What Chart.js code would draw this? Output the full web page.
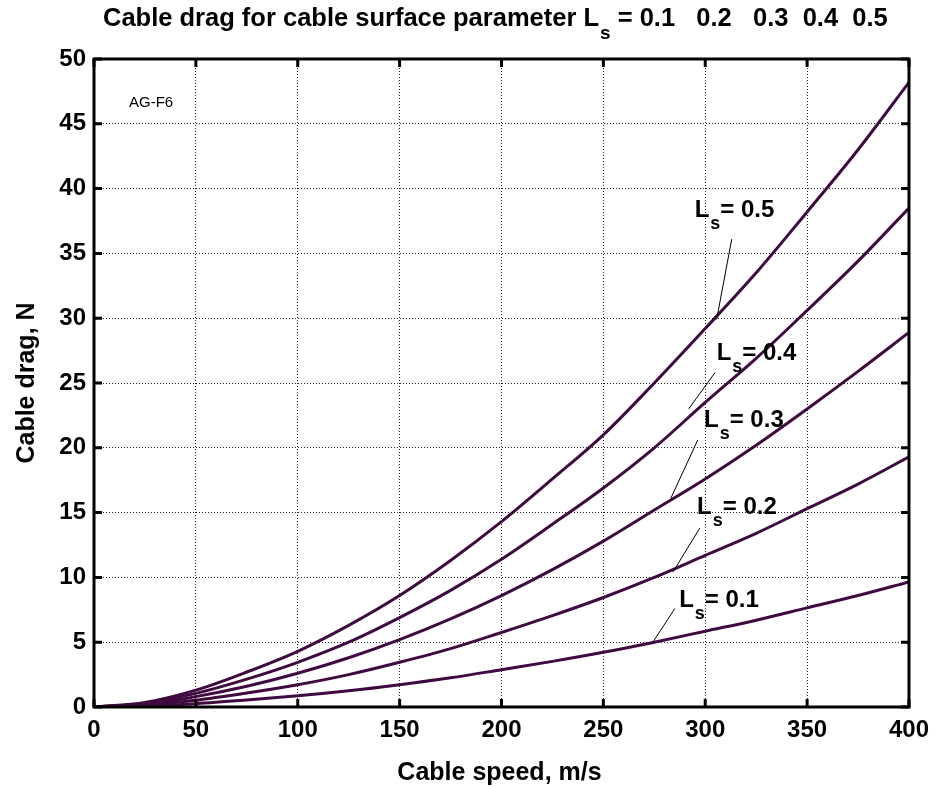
<!DOCTYPE html>
<html><head><meta charset="utf-8">
<script src="https://cdn.jsdelivr.net/npm/chart.js@4.4.1/dist/chart.umd.min.js"></script>
<style>html,body{margin:0;padding:0;background:#fff}#wrap{width:938px;height:787px}</style>
</head><body><div id="wrap"><canvas id="c" width="938" height="787"></canvas></div>
<script>
// ---- data ----
const speeds   = [0, 25, 50, 75, 100, 125, 150, 175, 200, 225, 250, 275, 300, 325, 350, 375, 400];
const dragLs05 = [0, 0.35, 1.3, 2.7, 4.3, 6.3, 8.6, 11.3, 14.3, 17.6, 21.0, 25.0, 29.2, 33.5, 38.2, 43.0, 48.2];
const dragLs04 = [0, 0.28, 1.05, 2.15, 3.45, 5.0, 6.9, 9.0, 11.4, 14.1, 16.9, 20.0, 23.5, 26.9, 30.6, 34.4, 38.5];
const dragLs03 = [0, 0.21, 0.8, 1.6, 2.6, 3.8, 5.2, 6.8, 8.6, 10.6, 12.8, 15.2, 17.6, 20.2, 23.0, 25.9, 28.9];
const dragLs02 = [0, 0.14, 0.52, 1.08, 1.72, 2.5, 3.45, 4.5, 5.75, 7.05, 8.45, 10.0, 11.7, 13.4, 15.3, 17.2, 19.3];
const dragLs01 = [0, 0.07, 0.26, 0.54, 0.86, 1.25, 1.72, 2.25, 2.88, 3.52, 4.22, 5.0, 5.85, 6.7, 7.65, 8.6, 9.65];
const lsLabels = ['0.5', '0.4', '0.3', '0.2', '0.1'];
const xTickValues = [0, 50, 100, 150, 200, 250, 300, 350, 400];
const yTickValues = [0, 5, 10, 15, 20, 25, 30, 35, 40, 45, 50];
const titleMain = 'Cable drag for cable surface parameter L';
const titleSub = 's';
const titleTail = ' = 0.1   0.2   0.3  0.4  0.5';
const xTitle = 'Cable speed, m/s';
const yTitle = 'Cable drag, N';
const tagText = 'AG-F6';
// label anchor (data coords) and pointer lines (data coords) for each curve label
const labelAnchors = [[294.8, 37.8], [305.6, 26.8], [299.4, 21.6], [296.0, 14.9], [287.2, 7.7]];
const pointerLines = [[[313.0, 36.1], [305.6, 29.9]], [[304.8, 25.8], [291.9, 23.0]], [[296.3, 20.6], [283.1, 16.1]], [[297.3, 13.8], [284.1, 10.4]], [[285.1, 7.6], [274.3, 5.0]]];

const FONT = '"Liberation Sans", Arial, Helvetica, sans-serif';
const LINE = '#3f0a3f';
const seriesList = [dragLs05, dragLs04, dragLs03, dragLs02, dragLs01];

const datasets = seriesList.map((arr, i) => ({
  label: 'Ls = ' + lsLabels[i],
  data: speeds.map((s, j) => ({x: s, y: arr[j]})),
  borderColor: LINE,
  borderWidth: 3,
  pointRadius: 0,
  fill: false,
  cubicInterpolationMode: 'monotone'
}));

const deco = {
  id: 'deco',
  afterDatasetsDraw(chart) {
    const {ctx, chartArea: a, scales: {x, y}} = chart;
    ctx.save();
    ctx.strokeStyle = '#000';
    ctx.lineWidth = 3;
    ctx.strokeRect(a.left, a.top, a.right - a.left, a.bottom - a.top);
    ctx.beginPath();
    xTickValues.forEach(v => {
      const px = x.getPixelForValue(v);
      ctx.moveTo(px, a.bottom); ctx.lineTo(px, a.bottom - 8);
      ctx.moveTo(px, a.top); ctx.lineTo(px, a.top + 8);
    });
    yTickValues.forEach(v => {
      const py = y.getPixelForValue(v);
      ctx.moveTo(a.left, py); ctx.lineTo(a.left + 8, py);
      ctx.moveTo(a.right, py); ctx.lineTo(a.right - 8, py);
    });
    ctx.stroke();
    ctx.lineWidth = 1;
    pointerLines.forEach(p => {
      ctx.beginPath();
      ctx.moveTo(x.getPixelForValue(p[0][0]), y.getPixelForValue(p[0][1]));
      ctx.lineTo(x.getPixelForValue(p[1][0]), y.getPixelForValue(p[1][1]));
      ctx.stroke();
    });
    ctx.fillStyle = '#000';
    ctx.textBaseline = 'alphabetic';
    ctx.textAlign = 'left';
    labelAnchors.forEach((p, i) => {
      let px = x.getPixelForValue(p[0]);
      const py = y.getPixelForValue(p[1]);
      ctx.font = 'bold 24px ' + FONT;
      ctx.fillText('L', px, py);
      px += ctx.measureText('L').width + 1;
      ctx.font = 'bold 18px ' + FONT;
      ctx.fillText('s', px, py + 12);
      px += ctx.measureText('s').width;
      ctx.font = 'bold 24px ' + FONT;
      ctx.fillText('= ' + lsLabels[i], px, py);
    });
    ctx.font = '15px ' + FONT;
    ctx.fillText(tagText, 129, 107);
    ctx.restore();
  },
  afterDraw(chart) {
    const {ctx, chartArea: a} = chart;
    ctx.save();
    ctx.fillStyle = '#000';
    ctx.textBaseline = 'alphabetic';
    ctx.textAlign = 'left';
    let tx = 103;
    ctx.font = 'bold 25.5px ' + FONT;
    ctx.fillText(titleMain, tx, 26);
    tx += ctx.measureText(titleMain).width + 1;
    ctx.font = 'bold 19px ' + FONT;
    ctx.fillText(titleSub, tx, 39);
    tx += ctx.measureText(titleSub).width;
    ctx.font = 'bold 25.5px ' + FONT;
    ctx.fillText(titleTail, tx, 26);
    ctx.font = 'bold 25px ' + FONT;
    ctx.textAlign = 'center';
    ctx.fillText(xTitle, (a.left + a.right) / 2 - 2, 780);
    ctx.translate(34, (a.top + a.bottom) / 2);
    ctx.rotate(-Math.PI / 2);
    ctx.fillText(yTitle, 0, 0);
    ctx.restore();
  }
};

new Chart(document.getElementById('c').getContext('2d'), {
  type: 'line',
  data: {datasets},
  plugins: [deco],
  options: {
    responsive: false,
    animation: false,
    layout: {padding: {left: 0, right: 27, top: 59, bottom: 0}},
    plugins: {legend: {display: false}, title: {display: false}, tooltip: {enabled: false}},
    scales: {
      x: {
        type: 'linear', min: 0, max: 400,
        afterBuildTicks(s) { s.ticks = xTickValues.map(v => ({value: v})); },
        ticks: {font: {family: FONT, size: 24, weight: 'bold'}, color: '#000', padding: 9, maxRotation: 0, autoSkip: false},
        grid: {color: '#222', lineWidth: 1, drawTicks: false},
        border: {display: false, dash: [1, 2]},
        afterFit(s) { s.height = 80; }
      },
      y: {
        type: 'linear', min: 0, max: 50,
        afterBuildTicks(s) { s.ticks = yTickValues.map(v => ({value: v})); },
        ticks: {font: {family: FONT, size: 24, weight: 'bold'}, color: '#000', padding: 8, autoSkip: false},
        grid: {color: '#222', lineWidth: 1, drawTicks: false},
        border: {display: false, dash: [1, 2]},
        afterFit(s) { s.width = 94; }
      }
    }
  }
});
</script></body></html>
